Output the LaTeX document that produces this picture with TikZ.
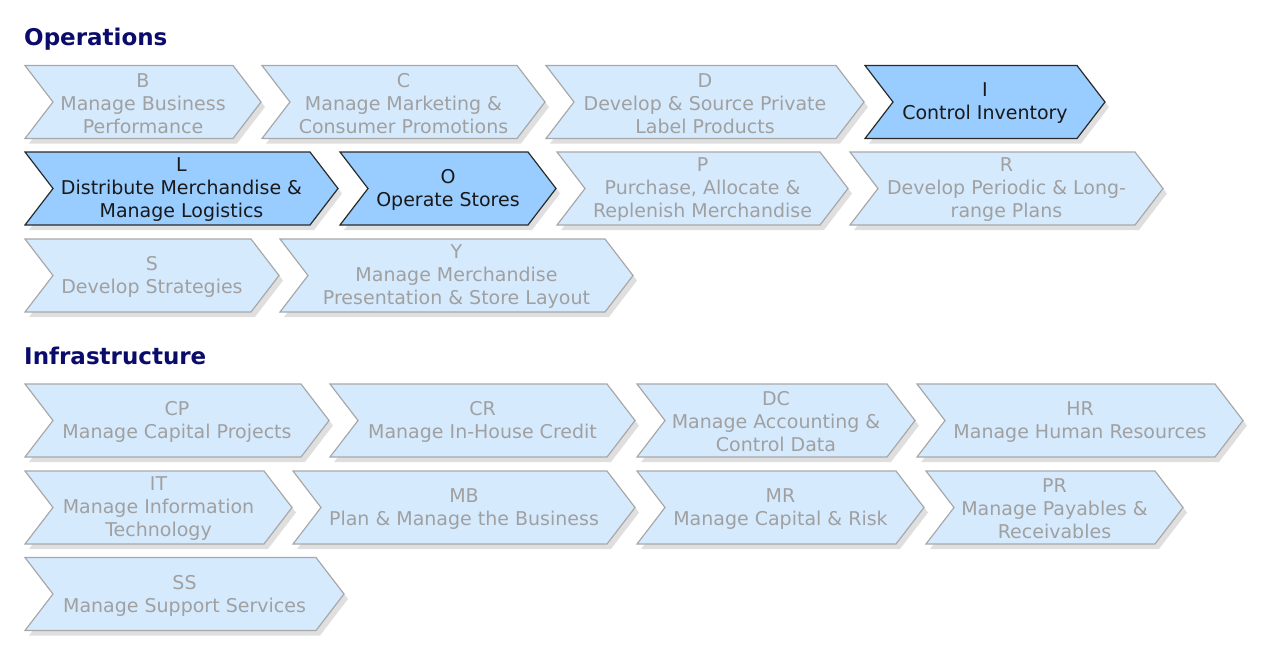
\documentclass[tikz,border=0pt]{standalone}
\usepackage{fontspec}
\setmainfont{DejaVu Sans}
\usepackage{xcolor}
\usetikzlibrary{positioning}
\definecolor{headblue}{HTML}{0B0B6B}
\definecolor{paleblue}{HTML}{D6EAFE}
\definecolor{paleedge}{HTML}{A8A8A8}
\definecolor{paletext}{HTML}{A0A0A0}
\definecolor{hotblue}{HTML}{99CCFF}
\definecolor{hotedge}{HTML}{2A2A2A}
\definecolor{chshadow}{HTML}{DFDFDF}

% chevron: name, left x, tip x, mid y, kind (pale/hot), text
\newcommand{\procstep}[6]{%
  \fill[chshadow, shift={(4,5)}] (#2,#4-36.5) -- ({#3-28},#4-36.5) -- (#3,#4) -- ({#3-28},#4+36.5) -- (#2,#4+36.5) -- ({#2+28},#4) -- cycle;
  \draw[#5chev] (#2,#4-36.5) -- ({#3-28},#4-36.5) -- (#3,#4) -- ({#3-28},#4+36.5) -- (#2,#4+36.5) -- ({#2+28},#4) -- cycle;
  \node[#5txt] (#1) at ({(#2+#3)/2},#4+1.5) {#6};
}

\begin{document}
\begin{tikzpicture}[
  x=1pt, y=-1pt,
  every node/.style={font=\fontsize{19}{23}\selectfont, align=center, inner sep=0pt},
  head/.style={font=\fontsize{23}{27}\selectfont\bfseries, text=headblue, anchor=base west},
  palechev/.style={fill=paleblue, draw=paleedge, line width=1.2pt},
  hotchev/.style={fill=hotblue, draw=hotedge, line width=1.2pt},
  paletxt/.style={text=paletext},
  hottxt/.style={text=black!90}
]
\useasboundingbox (0,0) rectangle (1270,649);
% operations
\node[head] (ops) at (24,45) {Operations};
\procstep{b}{25}{261}{102}{pale}{B\\Manage Business\\Performance}
\procstep{c}{262}{545}{102}{pale}{C\\Manage Marketing \&\\Consumer Promotions}
\procstep{d}{546}{864}{102}{pale}{D\\Develop \& Source Private\\Label Products}
\procstep{i}{865}{1105}{102}{hot}{I\\Control Inventory}
\procstep{l}{25}{338}{188.5}{hot}{L\\Distribute Merchandise \&\\Manage Logistics}
\procstep{o}{340}{556}{188.5}{hot}{O\\Operate Stores}
\procstep{p}{557}{848}{188.5}{pale}{P\\Purchase, Allocate \&\\Replenish Merchandise}
\procstep{r}{850}{1163}{188.5}{pale}{R\\Develop Periodic \& Long-\\range Plans}
\procstep{s}{25}{279}{275.5}{pale}{S\\Develop Strategies}
\procstep{y}{280}{633}{275.5}{pale}{Y\\Manage Merchandise\\Presentation \& Store Layout}
% infrastructure
\node[head] (infra) at (24,364) {Infrastructure};
\procstep{cp}{25}{329}{420.5}{pale}{CP\\Manage Capital Projects}
\procstep{cr}{330}{635}{420.5}{pale}{CR\\Manage In-House Credit}
\procstep{dc}{637}{915}{420.5}{pale}{DC\\Manage Accounting \&\\Control Data}
\procstep{hr}{917}{1243}{420.5}{pale}{HR\\Manage Human Resources}
\procstep{it}{25}{292}{507.5}{pale}{IT\\Manage Information\\Technology}
\procstep{mb}{293}{635}{507.5}{pale}{MB\\Plan \& Manage the Business}
\procstep{mr}{637}{924}{507.5}{pale}{MR\\Manage Capital \& Risk}
\procstep{pr}{926}{1183}{507.5}{pale}{PR\\Manage Payables \&\\Receivables}
\procstep{ss}{25}{344}{594}{pale}{SS\\Manage Support Services}
\end{tikzpicture}
\end{document}
